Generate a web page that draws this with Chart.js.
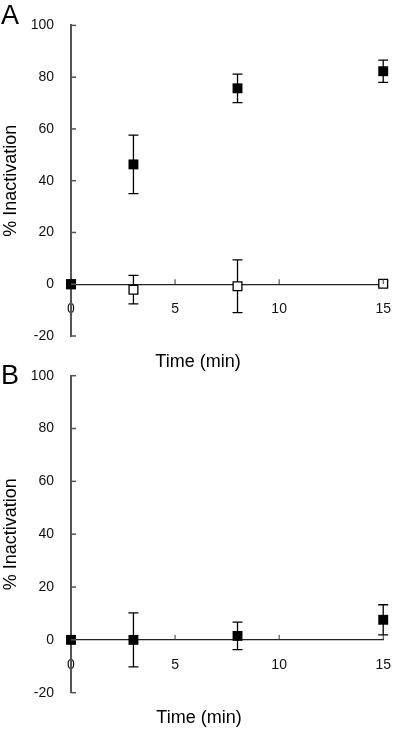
<!DOCTYPE html>
<html>
<head>
<meta charset="utf-8">
<script src="https://cdn.jsdelivr.net/npm/chart.js@4.4.1/dist/chart.umd.min.js"></script>
<style>
  body { margin: 0; background: #fff; width: 408px; height: 732px; position: relative; overflow: hidden;
         font-family: "Liberation Sans", Arial, sans-serif; }
  .panel { position: absolute; left: 0; width: 408px; }
  .tag { position: absolute; left: 1px; font-size: 27px; line-height: 27px; color: #000; }
</style>
</head>
<body>
<div class="panel" style="top:0;height:380px"><canvas id="chartA"></canvas></div>
<div class="panel" style="top:350px;height:382px"><canvas id="chartB"></canvas></div>
<div class="tag" style="top:2px">A</div>
<div class="tag" style="top:362px">B</div>
<script>
// time points (min)
const times = [0, 3, 8, 15];
const xTicks = [0, 5, 10, 15];

// panel A
const treatedA = [0, 46.3, 75.7, 82.3];
const treatedAErr = [0, 11.3, 5.5, 4.3];
const controlA = [0, -2.1, -0.8, 0.2];
const controlAErr = [0, 5.5, 10.2, 1.0];

// panel B
const treatedB = [0, 0, 1.5, 7.6];
const treatedBErr = [0, 10.2, 5.2, 5.7];

Chart.defaults.font.family = '"Liberation Sans", Arial, sans-serif';
Chart.defaults.color = '#111';

function points(vals) {
  return vals.map((v, i) => ({ x: times[i], y: v }));
}

// error bars behind the markers, inward tick marks on top
const marks = {
  id: 'marks',
  beforeDatasetsDraw(chart) {
    const { ctx, scales: { x, y } } = chart;
    ctx.save();
    ctx.strokeStyle = '#000';
    ctx.lineWidth = 1.3;
    chart.data.datasets.forEach(ds => {
      ds.errors.forEach((e, i) => {
        if (!e) return;
        const p = ds.data[i];
        const px = x.getPixelForValue(p.x);
        const t = y.getPixelForValue(p.y + e);
        const b = y.getPixelForValue(p.y - e);
        ctx.beginPath();
        ctx.moveTo(px, t); ctx.lineTo(px, b);
        ctx.moveTo(px - 5, t); ctx.lineTo(px + 5, t);
        ctx.moveTo(px - 5, b); ctx.lineTo(px + 5, b);
        ctx.stroke();
      });
    });
    ctx.restore();
  },
  afterDraw(chart) {
    const { ctx, scales: { x, y } } = chart;
    const left = chart.chartArea.left;
    const y0 = y.getPixelForValue(0);
    ctx.save();
    ctx.lineWidth = 1.5;
    ctx.strokeStyle = '#555';
    y.ticks.forEach(t => {
      const py = y.getPixelForValue(t.value);
      ctx.beginPath(); ctx.moveTo(left, py); ctx.lineTo(left + 5, py); ctx.stroke();
    });
    ctx.strokeStyle = '#333';
    ctx.lineWidth = 1;
    x.ticks.forEach(t => {
      if (t.value === 0) return;
      const px = x.getPixelForValue(t.value);
      ctx.beginPath(); ctx.moveTo(px, y0); ctx.lineTo(px, y0 - 5); ctx.stroke();
    });
    ctx.restore();
  }
};

function makeChart(id, datasets, lay) {
  return new Chart(document.getElementById(id), {
    type: 'scatter',
    data: { datasets },
    options: {
      responsive: true,
      maintainAspectRatio: false,
      animation: false,
      layout: { padding: { top: lay.top, right: lay.right, left: 0, bottom: 0 } },
      plugins: {
        legend: { display: false },
        tooltip: { enabled: false },
        title: {
          display: true, position: 'bottom', text: 'Time (min)', color: '#000',
          font: { size: 18, weight: 'normal' },
          padding: { top: lay.titleTop, bottom: lay.titleBottom }
        }
      },
      scales: {
        x: {
          type: 'linear', min: 0, max: 15,
          position: { y: 0 },
          afterFit(s) { s.height = 0; },
          afterBuildTicks(s) { s.ticks = xTicks.map(v => ({ value: v })); },
          grid: { display: false, drawTicks: false },
          border: { display: true, color: '#222', width: 1.2 },
          ticks: { padding: 17, font: { size: 14 }, color: '#111' }
        },
        y: {
          min: -20, max: 100,
          afterFit(s) { s.width = 71; },
          grid: { display: false, drawTicks: false },
          border: { display: true, color: '#555', width: 2 },
          ticks: { stepSize: 20, padding: 17, font: { size: 14 }, color: '#111' },
          title: {
            display: true, text: '% Inactivation', color: '#000',
            font: { size: 18 }, padding: { top: 0, bottom: 4 }
          }
        }
      }
    },
    plugins: [marks]
  });
}

makeChart('chartA', [
  {
    label: 'treated', data: points(treatedA), errors: treatedAErr,
    pointStyle: 'rect', pointRadius: 7, pointBackgroundColor: '#000', pointBorderColor: '#000',
    pointBorderWidth: 0, showLine: false, clip: false
  },
  {
    label: 'control', data: points(controlA), errors: controlAErr,
    pointStyle: 'rect', pointRadius: 6.2, pointBackgroundColor: '#fff', pointBorderColor: '#000',
    pointBorderWidth: 1.3, showLine: false, clip: false
  }
], { top: 22.7, right: 12, titleTop: 15.2, titleBottom: 7.2 });

makeChart('chartB', [
  {
    label: 'treated', data: points(treatedB), errors: treatedBErr,
    pointStyle: 'rect', pointRadius: 7, pointBackgroundColor: '#000', pointBorderColor: '#000',
    pointBorderWidth: 0, showLine: false, clip: false
  }
], { top: 25.7, right: 10, titleTop: 14.5, titleBottom: 3.2 });
</script>
</body>
</html>
